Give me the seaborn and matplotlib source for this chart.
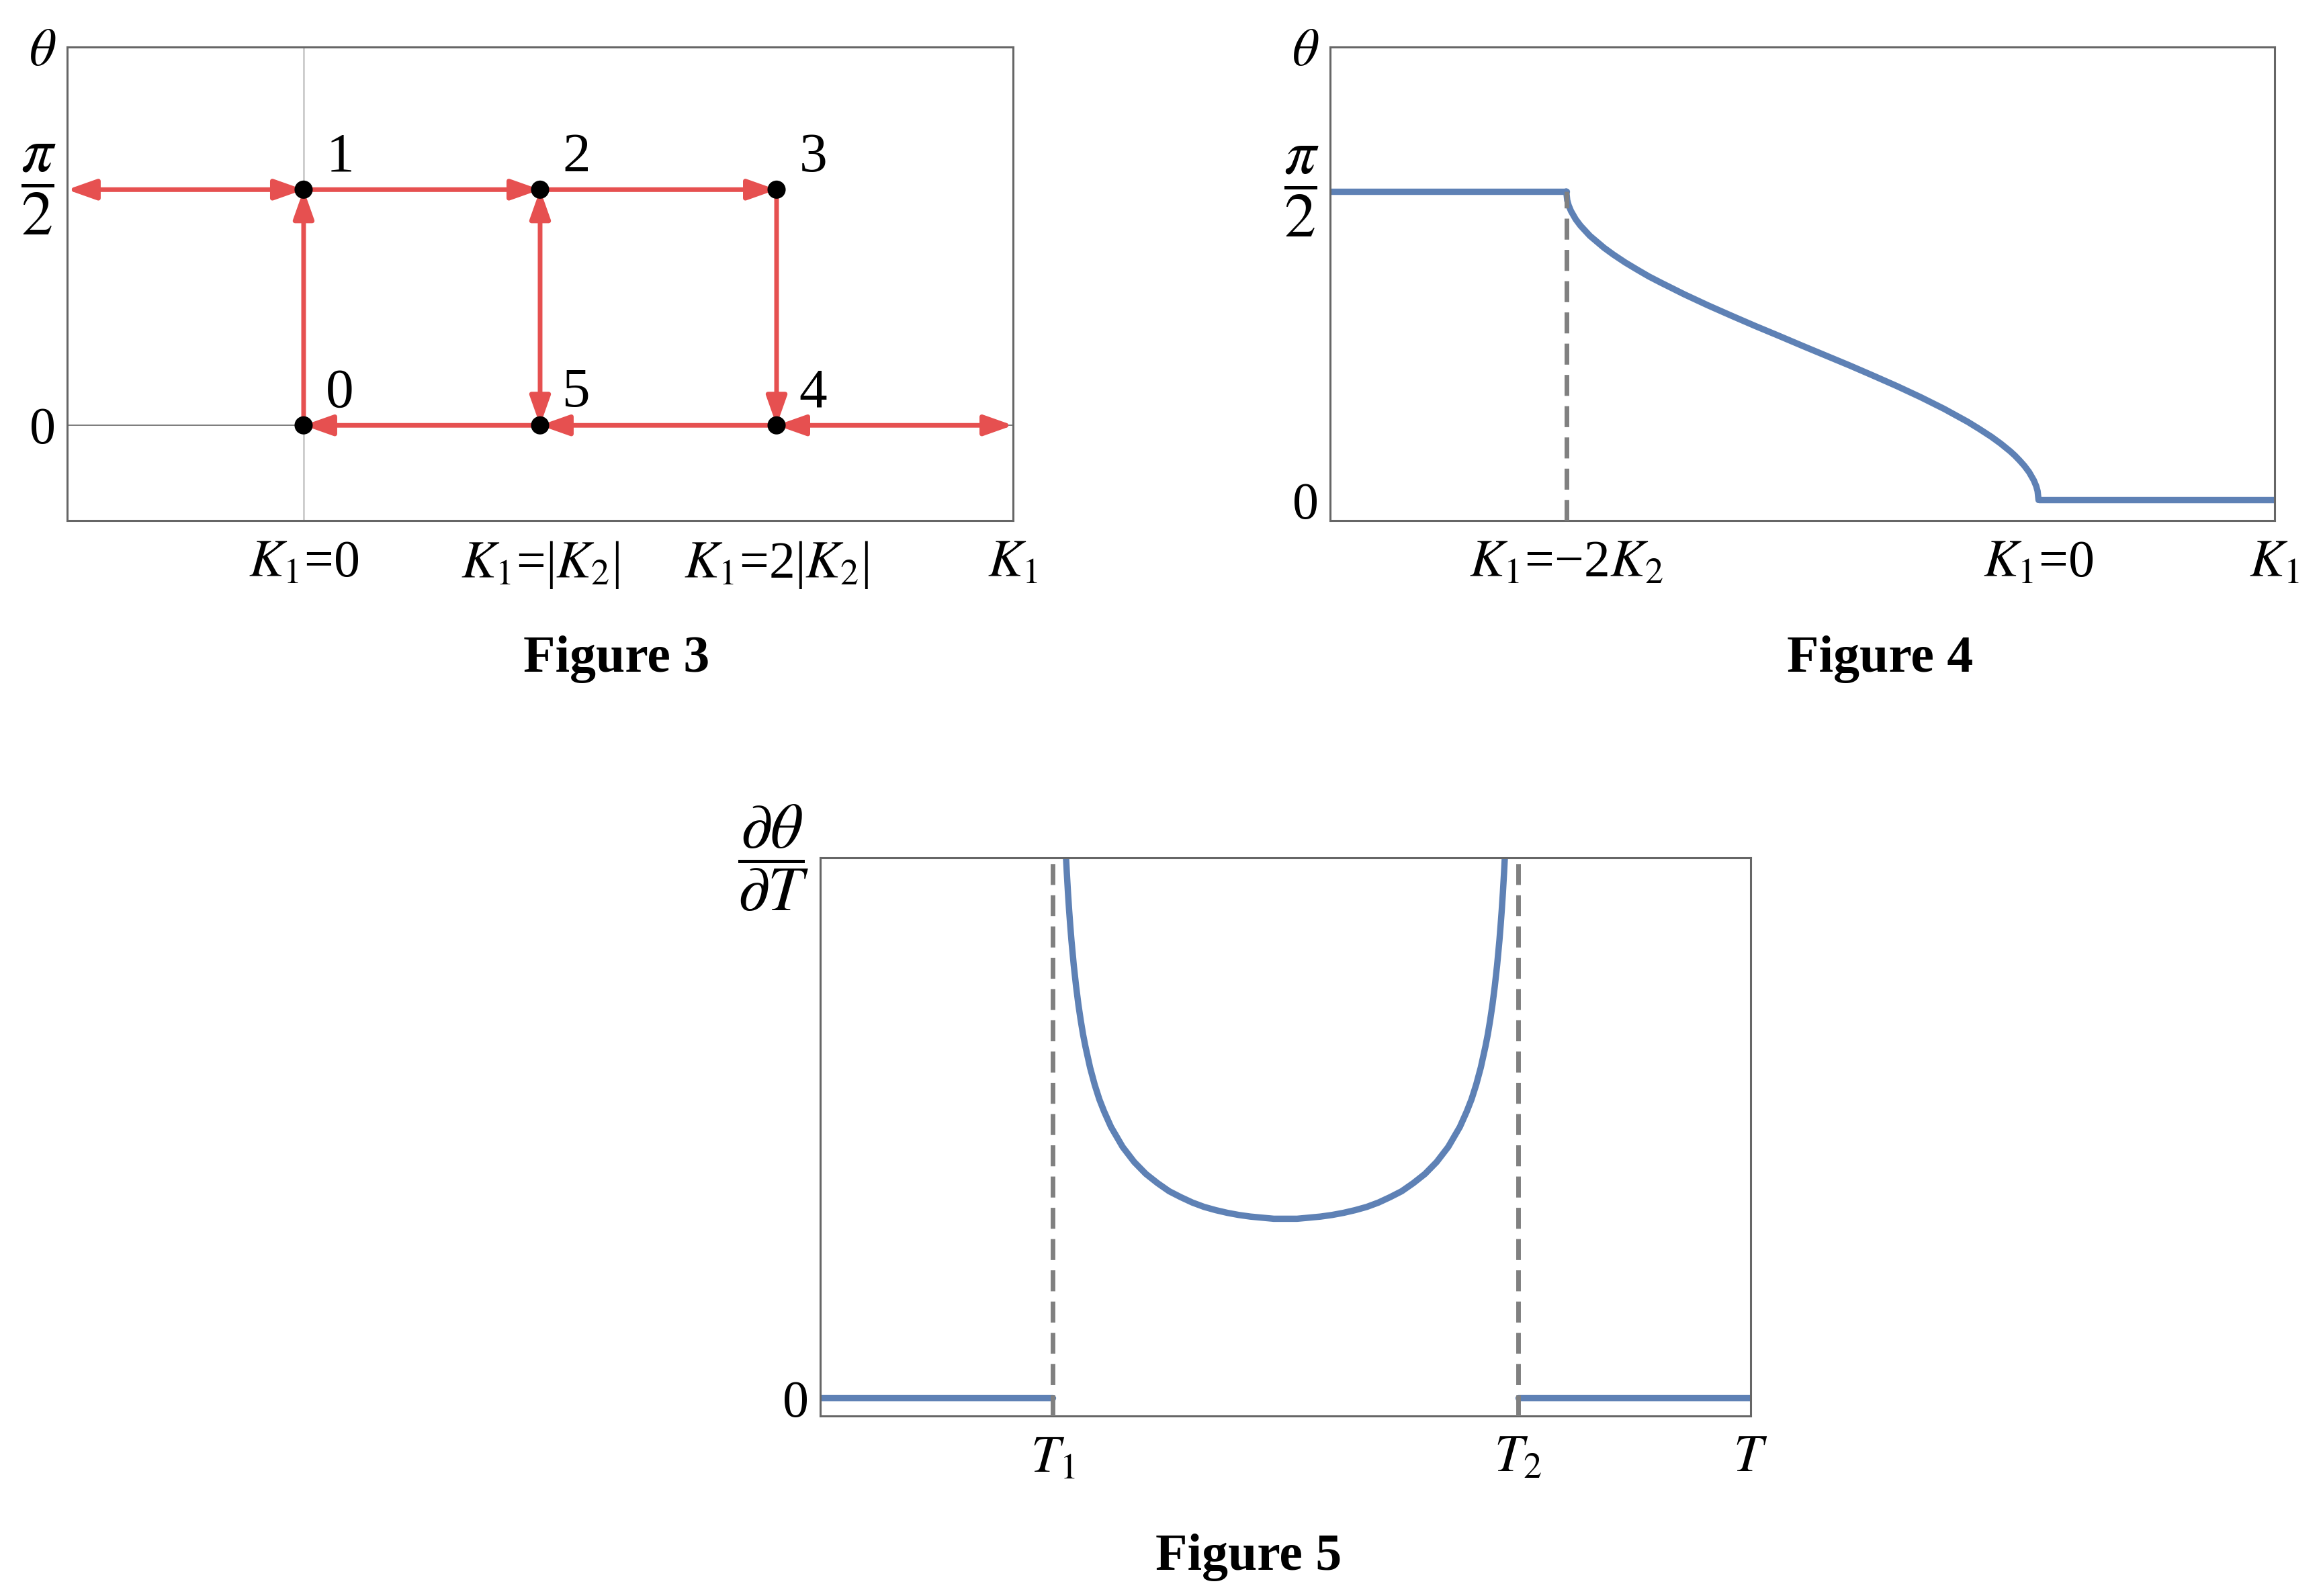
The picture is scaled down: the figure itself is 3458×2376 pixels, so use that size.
import numpy as np
import pandas as pd
import matplotlib
matplotlib.use("Agg")
import matplotlib.pyplot as plt
import seaborn as sns

# ---- Figure 3: states on the (K1, theta) diagram ----
fig3_names = ["0", "1", "2", "3", "4", "5"]
fig3_k1 = [0, 0, 1, 2, 2, 1]
fig3_theta = [0, np.pi / 2, np.pi / 2, np.pi / 2, 0, 0]
# open ends of the arrows at the frame (left / right)
fig3_end_names = ["L", "R"]
fig3_end_k1 = [-1, 3]
fig3_end_theta = [np.pi / 2, 0]
arrow_from = ["L", "1", "2", "0", "5", "3", "5", "4", "4"]
arrow_to = ["1", "2", "3", "1", "2", "4", "0", "5", "R"]
arrow_both = [True, False, False, False, True, False, False, False, True]
fig3_xticks = [0, 1, 2, 3]
fig3_xlabels = ["$K_1$=0", "$K_1$=|$K_2$|", "$K_1$=2|$K_2$|", "$K_1$"]

# ---- Figure 4: theta vs K1 (K1 in units of 2K2) ----
fig4_k1_hi = [-1.5, -1.0]
fig4_theta_hi = [np.pi / 2, np.pi / 2]
fig4_k1_curve = [-1.000, -0.998, -0.995, -0.990, -0.980, -0.970, -0.950, -0.920,
                 -0.900, -0.875, -0.850, -0.825, -0.800, -0.750, -0.700, -0.650,
                 -0.600, -0.550, -0.500, -0.450, -0.400, -0.350, -0.300, -0.250,
                 -0.200, -0.175, -0.150, -0.125, -0.100, -0.080, -0.060, -0.050,
                 -0.040, -0.030, -0.020, -0.010, -0.005, -0.002, 0.000]
fig4_theta_curve = [1.571, 1.526, 1.500, 1.471, 1.429, 1.397, 1.345, 1.284,
                    1.249, 1.209, 1.173, 1.138, 1.107, 1.047, 0.991, 0.938,
                    0.886, 0.836, 0.785, 0.735, 0.685, 0.633, 0.580, 0.524,
                    0.464, 0.431, 0.398, 0.361, 0.322, 0.287, 0.248, 0.226,
                    0.201, 0.174, 0.142, 0.100, 0.071, 0.045, 0.000]
fig4_k1_lo = [0.0, 0.5]
fig4_theta_lo = [0.0, 0.0]
fig4_k1_crit = -1.0
fig4_xticks = [-1.0, 0.0, 0.5]
fig4_xlabels = ["$K_1$=\u22122$K_2$", "$K_1$=0", "$K_1$"]

# ---- Figure 5: dtheta/dT vs T ----
fig5_t_lo = [0.0, 1.0]
fig5_t_hi = [3.0, 4.0]
fig5_t_curve = [1.050, 1.055, 1.060, 1.065, 1.070, 1.075, 1.080, 1.090, 1.100, 1.110,
                1.120, 1.130, 1.140, 1.160, 1.180, 1.200, 1.220, 1.250, 1.300, 1.350,
                1.400, 1.450, 1.500, 1.550, 1.600, 1.650, 1.700, 1.750, 1.800, 1.850,
                1.900, 1.950, 2.000, 2.050, 2.100, 2.150, 2.200, 2.250, 2.300, 2.350,
                2.400, 2.450, 2.500, 2.550, 2.600, 2.650, 2.700, 2.750, 2.780, 2.800,
                2.820, 2.840, 2.860, 2.870, 2.880, 2.890, 2.900, 2.910, 2.920, 2.925,
                2.930, 2.935, 2.940, 2.945, 2.950]
fig5_d_curve = [1.063, 1.015, 0.973, 0.936, 0.903, 0.874, 0.847, 0.801, 0.762, 0.728,
                0.699, 0.673, 0.651, 0.612, 0.580, 0.553, 0.531, 0.502, 0.465, 0.437,
                0.415, 0.398, 0.383, 0.372, 0.362, 0.354, 0.348, 0.343, 0.339, 0.336,
                0.334, 0.332, 0.332, 0.332, 0.334, 0.336, 0.339, 0.343, 0.348, 0.354,
                0.362, 0.372, 0.383, 0.398, 0.415, 0.437, 0.465, 0.502, 0.531, 0.553,
                0.580, 0.612, 0.651, 0.673, 0.699, 0.728, 0.762, 0.801, 0.847, 0.874,
                0.903, 0.936, 0.973, 1.015, 1.063]
fig5_crit = [1.0, 3.0]
fig5_xticks = [1, 3, 4]
fig5_xlabels = ["$T_1$", "$T_2$", "$T$"]

BLUE = "#5E81B5"
RED = "#E65050"
FRAME = "#666666"
DASH = "#808080"

sns.set_style("white")
plt.rcParams["font.family"] = ["Liberation Serif", "DejaVu Serif"]
plt.rcParams["mathtext.fontset"] = "stix"
plt.rcParams["text.color"] = "black"
plt.rcParams["axes.edgecolor"] = FRAME
plt.rcParams["axes.linewidth"] = 1.1

fig = plt.figure(figsize=(17.29, 11.88), dpi=200)
ax3 = fig.add_axes([0.0289, 0.6738, 0.4072, 0.2967])
ax4 = fig.add_axes([0.5726, 0.6738, 0.4066, 0.2967])
ax5 = fig.add_axes([0.3531, 0.1128, 0.4005, 0.3497])


def style_axes(ax):
    for s in ax.spines.values():
        s.set_visible(True)
        s.set_color(FRAME)
        s.set_linewidth(1.1)
    ax.tick_params(direction="in", length=5.8, width=1.4, color="black",
                   labelsize=28, labelcolor="black")
    ax.tick_params(axis="x", pad=10)
    ax.tick_params(axis="y", pad=6)
    ax.set_xlabel("")
    ax.set_ylabel("")


def enlarge_fractions(ax, size=34):
    for lab in ax.get_yticklabels():
        if "frac" in lab.get_text():
            lab.set_fontsize(size)
            lab.set_verticalalignment("center")


# ---------------- Figure 3 ----------------
ax = ax3
ax.set_xlim(-1, 3)
ax.set_ylim(-0.635, 2.521)
ax.axvline(0, color="#888888", lw=0.5, zorder=1)
ax.axhline(0, color="#666666", lw=0.6, zorder=1)
pos = {n: (x, y) for n, x, y in zip(fig3_names, fig3_k1, fig3_theta)}
pos.update({n: (x, y) for n, x, y in zip(fig3_end_names, fig3_end_k1, fig3_end_theta)})
for a, b, both in zip(arrow_from, arrow_to, arrow_both):
    style = "<|-|>,head_length=13,head_width=4.6" if both else "-|>,head_length=13,head_width=4.6"
    ax.annotate("", xy=pos[b], xytext=pos[a],
                arrowprops=dict(arrowstyle=style, color=RED, lw=2.5,
                                shrinkA=0, shrinkB=0, mutation_scale=1),
                zorder=3, annotation_clip=False)
pts = pd.DataFrame({"k1": fig3_k1, "theta": fig3_theta, "name": fig3_names})
sns.scatterplot(data=pts, x="k1", y="theta", color="black", s=95, edgecolor="none",
                zorder=5, ax=ax, clip_on=False)
for _, r in pts.iterrows():
    ax.annotate(r["name"], (r["k1"], r["theta"]), xytext=(12, 10),
                textcoords="offset points", ha="left", va="baseline",
                fontsize=30, color="black")
style_axes(ax)
ax.set_xticks(fig3_xticks)
ax.set_xticklabels(fig3_xlabels)
ax.set_yticks([0, np.pi / 2, 2.521])
ax.set_yticklabels(["0", r"$\dfrac{\pi}{2}$", r"$\theta$"])
enlarge_fractions(ax)

# ---------------- Figure 4 ----------------
ax = ax4
ax.set_xlim(-1.5, 0.5)
ax.set_ylim(-0.105, 2.306)
seg4 = pd.concat([
    pd.DataFrame({"k1": fig4_k1_hi, "theta": fig4_theta_hi, "seg": "hi"}),
    pd.DataFrame({"k1": fig4_k1_curve, "theta": fig4_theta_curve, "seg": "curve"}),
    pd.DataFrame({"k1": fig4_k1_lo, "theta": fig4_theta_lo, "seg": "lo"}),
])
sns.lineplot(data=seg4, x="k1", y="theta", units="seg", estimator=None, sort=False,
             color=BLUE, lw=3.4, ax=ax, zorder=2)
ax.vlines(fig4_k1_crit, -0.105, np.pi / 2, color=DASH, lw=2.5,
          linestyles=(0, (4.5, 2.2)), zorder=3)
style_axes(ax)
ax.set_xticks(fig4_xticks)
ax.set_xticklabels(fig4_xlabels)
ax.set_yticks([0, np.pi / 2, 2.306])
ax.set_yticklabels(["0", r"$\dfrac{\pi}{2}$", r"$\theta$"])
enlarge_fractions(ax)

# ---------------- Figure 5 ----------------
ax = ax5
ax.set_xlim(0, 4)
ax.set_ylim(-0.033, 1.0)
seg5 = pd.concat([
    pd.DataFrame({"t": fig5_t_lo, "d": [0.0, 0.0], "seg": "lo"}),
    pd.DataFrame({"t": fig5_t_curve, "d": fig5_d_curve, "seg": "curve"}),
    pd.DataFrame({"t": fig5_t_hi, "d": [0.0, 0.0], "seg": "hi"}),
])
sns.lineplot(data=seg5, x="t", y="d", units="seg", estimator=None, sort=False,
             color=BLUE, lw=3.4, ax=ax, zorder=2)
for tc in fig5_crit:
    ax.axvline(tc, color=DASH, lw=2.5, linestyle=(0, (4.5, 2.2)), zorder=3)
style_axes(ax)
ax.set_xticks(fig5_xticks)
ax.set_xticklabels(fig5_xlabels)
ax.set_yticks([0, 1.0])
ax.set_yticklabels(["0", r"$\dfrac{\partial\theta}{\partial T}$"])
enlarge_fractions(ax, 34)

fig.text(0.2655, 0.587, "Figure 3", ha="center", va="center", fontsize=28,
         fontweight="bold", color="black")
fig.text(0.8093, 0.587, "Figure 4", ha="center", va="center", fontsize=28,
         fontweight="bold", color="black")
fig.text(0.5376, 0.024, "Figure 5", ha="center", va="center", fontsize=28,
         fontweight="bold", color="black")

fig.savefig("out.png", dpi=200)
